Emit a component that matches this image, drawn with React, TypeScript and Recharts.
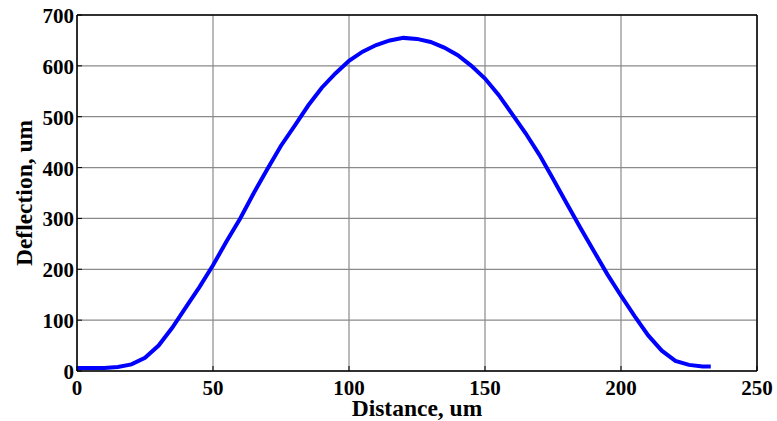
import React from 'react';
import {
    LineChart,
    Line,
    XAxis,
    YAxis,
    CartesianGrid,
} from 'recharts';

// distance (um) and deflection (um)
const distance = [
    0, 5, 10, 15, 20, 25, 30, 35, 40, 45, 50, 55, 60, 65, 70, 75, 80, 85, 90, 95,
    100, 105, 110, 115, 120, 125, 130, 135, 140, 145, 150, 155, 160, 165, 170, 175,
    180, 185, 190, 195, 200, 205, 210, 215, 220, 225, 230, 233,
];
const deflection = [
    6, 6, 6, 8, 13, 26, 50, 85, 125, 165, 208, 255, 300, 350, 397, 443, 482, 522, 557, 585,
    610, 628, 641, 650, 655, 653, 647, 636, 621, 600, 575, 543, 505, 467, 425, 378,
    330, 282, 236, 190, 148, 108, 70, 40, 20, 12, 9, 9,
];

const xTicks = [0, 50, 100, 150, 200, 250];
const yTicks = [0, 100, 200, 300, 400, 500, 600, 700];

const data = distance.map((d, i) => ({ d, v: deflection[i] }));

const FONT = '"Liberation Serif", "Times New Roman", serif';
const labelStyle = { fontFamily: FONT, fontSize: 23.5, fontWeight: 700, fill: '#000', textAnchor: 'middle' as const };

// tick labels in bold Times, like the original MATLAB figure
const XTick = (props: any) => {
    const { x, y, payload } = props;
    return (
        <text x={x} y={y} dy="0.71em" textAnchor="middle"
            style={{ fontFamily: FONT, fontSize: 21, fontWeight: 700, fill: '#000' }}>
            {payload.value}
        </text>
    );
};

const YTick = (props: any) => {
    const { x, y, payload } = props;
    return (
        <text x={x} y={y} dy="0.38em" textAnchor="end"
            style={{ fontFamily: FONT, fontSize: 21, fontWeight: 700, fill: '#000' }}>
            {payload.value}
        </text>
    );
};

export default function App() {
    return (
        <div style={{ position: 'absolute', left: 0, top: 0, width: 777, height: 421, background: '#fff' }}>
            <LineChart
                width={777}
                height={421}
                data={data}
                margin={{ top: 14, right: 19, left: 0, bottom: 0 }}
            >
                <CartesianGrid stroke="#8a8a8a" strokeWidth={1.2} />
                <XAxis
                    dataKey="d"
                    type="number"
                    domain={[0, 250]}
                    ticks={xTicks}
                    height={50}
                    axisLine={{ stroke: '#000', strokeWidth: 1.5 }}
                    tickLine={{ stroke: '#000' }}
                    tickSize={-5}
                    tickMargin={14}
                    tick={<XTick />}
                    label={{ value: 'Distance, um', position: 'insideBottom', offset: 5, style: labelStyle }}
                />
                <XAxis
                    xAxisId="top"
                    orientation="top"
                    type="number"
                    domain={[0, 250]}
                    ticks={xTicks}
                    height={1}
                    axisLine={{ stroke: '#000', strokeWidth: 1.5 }}
                    tickLine={{ stroke: '#000' }}
                    tickSize={-5}
                    tick={false}
                />
                <YAxis
                    type="number"
                    domain={[0, 700]}
                    ticks={yTicks}
                    width={77}
                    axisLine={{ stroke: '#000', strokeWidth: 1.5 }}
                    tickLine={{ stroke: '#000' }}
                    tickSize={-5}
                    tickMargin={8}
                    tick={<YTick />}
                    label={{ value: 'Deflection, um', angle: -90, position: 'insideLeft', offset: 24, style: labelStyle }}
                />
                <YAxis
                    yAxisId="right"
                    orientation="right"
                    type="number"
                    domain={[0, 700]}
                    ticks={yTicks}
                    width={1}
                    axisLine={{ stroke: '#000', strokeWidth: 1.5 }}
                    tickLine={{ stroke: '#000' }}
                    tickSize={-5}
                    tick={false}
                />
                <Line
                    dataKey="v"
                    type="linear"
                    stroke="#0000ff"
                    strokeWidth={4}
                    dot={false}
                    isAnimationActive={false}
                />
            </LineChart>
        </div>
    );
}
